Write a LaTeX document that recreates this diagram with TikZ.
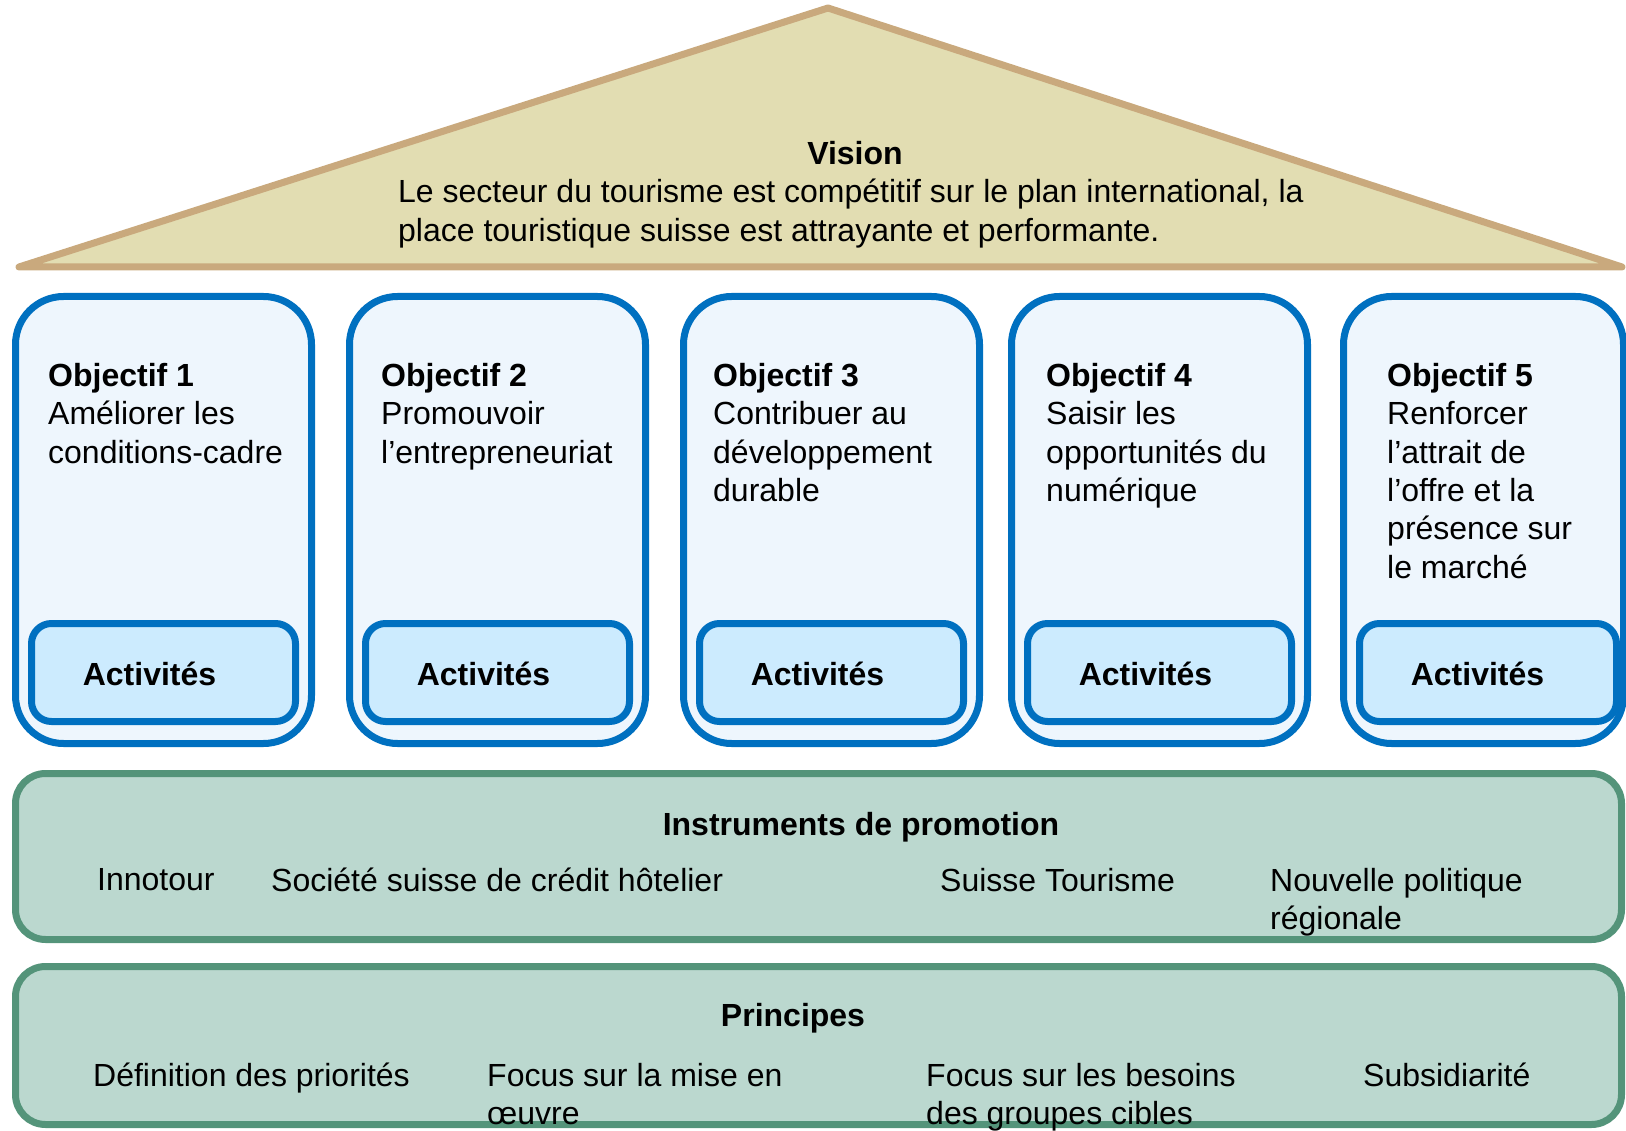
\documentclass[tikz,border=0pt]{standalone}
\usepackage{fontspec}
\setmainfont{Liberation Sans}
\usetikzlibrary{positioning}

\definecolor{roofline}{HTML}{C9A97D}
\definecolor{rooffill}{HTML}{E2DDB2}
\definecolor{objline}{HTML}{0070C0}
\definecolor{objfill}{HTML}{EEF6FD}
\definecolor{actfill}{HTML}{CCEBFE}
\definecolor{plinthline}{HTML}{54947A}
\definecolor{plinthfill}{HTML}{BBD8CF}

\begin{document}
\begin{tikzpicture}[x=1pt,y=-1pt,
    txt/.style={inner sep=0pt,font=\fontsize{32}{38.4}\selectfont,align=left,anchor=north west},
    ttl/.style={inner sep=0pt,font=\fontsize{32}{38.4}\selectfont\bfseries,anchor=base},
    pillar/.style={draw=objline,line width=7pt,fill=objfill,rounded corners=48pt},
    actbox/.style={draw=objline,line width=7pt,fill=actfill,rounded corners=20pt},
    plinth/.style={draw=plinthline,line width=7pt,fill=plinthfill,rounded corners=30pt}]
  \useasboundingbox (0,0) rectangle (1626,1131);
  \clip (0,0) rectangle (1626,1131);

  % roof
  \draw[line width=7pt,draw=roofline,fill=rooffill,line join=round] (19,267) -- (828,8) -- (1622,267) -- cycle;
  \node[ttl] (vision) at (855,165) {Vision};
  \node[txt] (visiontxt) at (398,179) {Le secteur du tourisme est compétitif sur le plan international, la\\place touristique suisse est attrayante et performante.};

  % pillars
  \foreach \x/\n/\w in {15.5/1/296,349.5/2/296,683.5/3/296,1011.5/4/296,1343.5/5/280} {
    \draw[pillar] (\x,296.5) rectangle ++(\w,447);
    \draw[actbox] ({\x+16},623.5) rectangle ++({\w-32+9*(\n==5)},98);
    \node[ttl] (act\n) at ({\x+134},685) {Activités};
  }
  \node[txt] (obj1) at (48,363) {\textbf{Objectif 1}\\Améliorer les\\conditions-cadre};
  \node[txt] (obj2) at (381,363) {\textbf{Objectif 2}\\Promouvoir\\l’entrepreneuriat};
  \node[txt] (obj3) at (713,363) {\textbf{Objectif 3}\\Contribuer au\\développement\\durable};
  \node[txt] (obj4) at (1046,363) {\textbf{Objectif 4}\\Saisir les\\opportunités du\\numérique};
  \node[txt] (obj5) at (1387,363) {\textbf{Objectif 5}\\Renforcer\\l’attrait de\\l’offre et la\\présence sur\\le marché};

  % instruments
  \draw[plinth] (15.5,773.5) rectangle (1621.5,939.5);
  \node[ttl] (instr) at (861,835) {Instruments de promotion};
  \node[txt] (innotour) at (97,868) {Innotour};
  \node[txt] (sch) at (271,868) {Société suisse de crédit hôtelier};
  \node[txt] (st) at (940,868) {Suisse Tourisme};
  \node[txt] (npr) at (1270,868) {Nouvelle politique\\régionale};

  % principes
  \draw[plinth] (15.5,966.5) rectangle (1621.5,1124.5);
  \node[ttl] (princ) at (793,1026) {Principes};
  \node[txt] (prio) at (93,1063) {Définition des priorités};
  \node[txt] (mise) at (487,1063) {Focus sur la mise en\\œuvre};
  \node[txt] (besoins) at (926,1063) {Focus sur les besoins\\des groupes cibles};
  \node[txt] (subs) at (1363,1063) {Subsidiarité};
\end{tikzpicture}
\end{document}
